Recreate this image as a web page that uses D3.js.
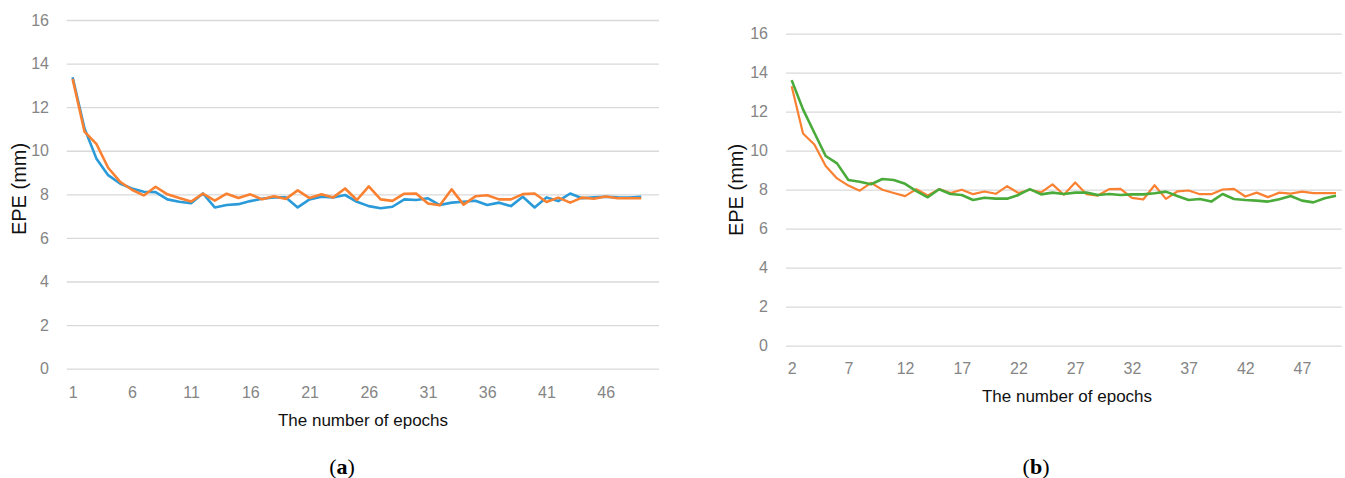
<!DOCTYPE html>
<html>
<head>
<meta charset="utf-8">
<script src="https://cdn.jsdelivr.net/npm/d3@7"></script>
<style>
  body { margin: 0; background: #fff; }
  svg text { font-family: "Liberation Sans", Arial, sans-serif; }
  .grid line { stroke: #d9d9d9; stroke-width: 1.3px; }
  .grid .domain, .xaxis .domain { display: none; }
  .tick text { fill: #858585; font-size: 16px; }
</style>
</head>
<body>
<svg id="chart" width="1345" height="478"></svg>
<script>
// categories (x tick labels) for the two panels
const epochsA = d3.range(1, 51);
const epochsB = d3.range(2, 51);
const yTicks = [0, 2, 4, 6, 8, 10, 12, 14, 16];

// panel (a): blue + orange, epochs 1..49
const blueA = [13.37, 11.03, 9.65, 8.88, 8.5, 8.27, 8.12, 8.1, 7.77, 7.66,
  7.59, 8.04, 7.4, 7.51, 7.55, 7.69, 7.8, 7.86, 7.86, 7.4,
  7.77, 7.89, 7.86, 7.97, 7.66, 7.46, 7.36, 7.43, 7.77, 7.74,
  7.82, 7.51, 7.62, 7.66, 7.71, 7.51, 7.62, 7.46, 7.89, 7.4,
  7.86, 7.69, 8.04, 7.82, 7.86, 7.89, 7.86, 7.85, 7.89];
const orangeA = [13.3, 10.88, 10.32, 9.22, 8.58, 8.21, 7.95, 8.35, 8.0, 7.83,
  7.67, 8.03, 7.71, 8.03, 7.83, 8.0, 7.77, 7.91, 7.79, 8.18,
  7.83, 8.0, 7.86, 8.27, 7.74, 8.37, 7.77, 7.7, 8.03, 8.04,
  7.58, 7.5, 8.23, 7.53, 7.91, 7.96, 7.77, 7.77, 8.01, 8.04,
  7.65, 7.85, 7.62, 7.85, 7.8, 7.9, 7.82, 7.82, 7.82];

// panel (b): green, epochs 2..50 (orange is the same series as in (a))
const greenB = [13.62, 12.12, 10.92, 9.73, 9.35, 8.5, 8.41, 8.28, 8.55, 8.5,
  8.3, 7.93, 7.61, 8.02, 7.78, 7.73, 7.47, 7.59, 7.54, 7.54,
  7.73, 8.03, 7.76, 7.85, 7.78, 7.85, 7.85, 7.73, 7.78, 7.73,
  7.76, 7.76, 7.82, 7.9, 7.68, 7.47, 7.52, 7.39, 7.78, 7.52,
  7.47, 7.44, 7.39, 7.51, 7.68, 7.44, 7.35, 7.56, 7.69];
const orangeB = orangeA;

const svg = d3.select("#chart");

function drawPanel(p) {
  const x = d3.scalePoint().domain(p.cats).range([p.x0, p.x1]).padding(0.5);
  const y = d3.scaleLinear().domain([0, 16]).range([p.yBottom, p.yTop]);

  const g = svg.append("g");

  g.append("g")
    .attr("class", "grid")
    .attr("transform", `translate(${p.x0},0)`)
    .call(d3.axisLeft(y).tickValues(yTicks).tickSize(-(p.x1 - p.x0)).tickPadding(p.yPad));

  g.append("g")
    .attr("class", "xaxis")
    .attr("transform", `translate(0,${p.yBottom})`)
    .call(d3.axisBottom(x)
      .tickValues(p.cats.filter((d, i) => i % 5 == 0))
      .tickSize(0)
      .tickPadding(p.xPad));

  const line = d3.line()
    .x((d, i) => x(p.cats[i]))
    .y(d => y(d));

  p.series.forEach(s => {
    g.append("path")
      .attr("fill", "none")
      .attr("stroke", s.color)
      .attr("stroke-width", s.width)
      .attr("stroke-linejoin", "round")
      .attr("d", line(s.values));
  });

  g.append("text")
    .attr("transform", `translate(${p.yTitleX},${p.yTitleY}) rotate(-90)`)
    .attr("text-anchor", "middle")
    .attr("dy", "0.35em")
    .attr("font-size", 20)
    .attr("fill", "#111")
    .text("EPE (mm)");

  g.append("text")
    .attr("x", p.xTitleX)
    .attr("y", p.xTitleY)
    .attr("text-anchor", "middle")
    .attr("font-size", 17)
    .attr("fill", "#111")
    .text("The number of epochs");

  const cap = g.append("text")
    .attr("x", p.capX)
    .attr("y", 474)
    .attr("text-anchor", "middle")
    .attr("font-size", 22)
    .style("font-family", "'Liberation Serif', 'DejaVu Serif', serif")
    .attr("fill", "#000");
  cap.append("tspan").text("(");
  cap.append("tspan").attr("font-weight", "bold").text(p.letter);
  cap.append("tspan").text(")");
}

drawPanel({
  cats: epochsA, x0: 66.7, x1: 659, yBottom: 368.7, yTop: 20,
  yPad: 17.7, xPad: 18.3,
  yTitleX: 19, yTitleY: 189, xTitleX: 363, xTitleY: 426,
  capX: 342, letter: "a",
  series: [
    {values: blueA, color: "#2a9ad8", width: 2.6},
    {values: orangeA, color: "#f98131", width: 2.6}
  ]
});

drawPanel({
  cats: epochsB, x0: 786, x1: 1341.7, yBottom: 345.7, yTop: 33.7,
  yPad: 18, xPad: 16.6,
  yTitleX: 736, yTitleY: 190, xTitleX: 1067, xTitleY: 402,
  capX: 1036, letter: "b",
  series: [
    {values: orangeB, color: "#f98131", width: 2.2},
    {values: greenB, color: "#4aab3a", width: 2.6}
  ]
});
</script>
</body>
</html>
